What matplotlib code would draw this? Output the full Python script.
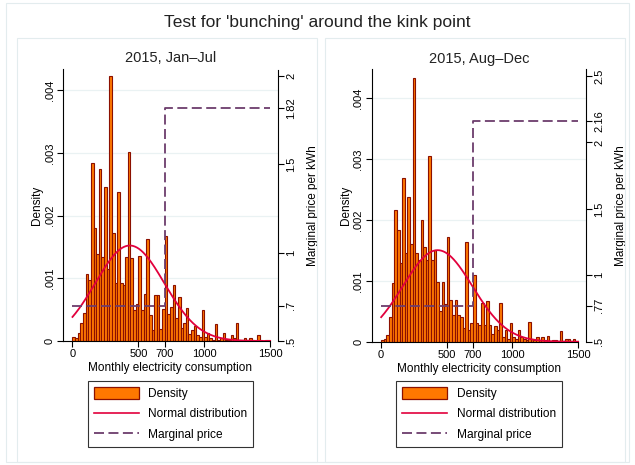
import numpy as np
import matplotlib
matplotlib.use("Agg")
import matplotlib.pyplot as plt
from matplotlib.patches import Patch, Rectangle
from matplotlib.lines import Line2D

plt.rcParams["font.family"] = ["Liberation Sans", "DejaVu Sans"]
plt.rcParams["lines.scale_dashes"] = False

# ---- data ----
bin_width = 20
bin_edges = np.arange(0, 1500, bin_width)  # left edges of 75 bins

density_janjul = [
    0.00007, 0.00004, 0.00012, 0.00028, 0.00045, 0.00107, 0.00097, 0.00284, 0.00181, 0.00138,
    0.00274, 0.00134, 0.00246, 0.00115, 0.00423, 0.00173, 0.00092, 0.00238, 0.00093, 0.00090,
    0.00134, 0.00302, 0.00132, 0.00049, 0.00059, 0.00135, 0.00050, 0.00075, 0.00163, 0.00041,
    0.00018, 0.00073, 0.00073, 0.00019, 0.00051, 0.00168, 0.00043, 0.00055, 0.00090, 0.00037,
    0.00070, 0.00020, 0.00028, 0.00053, 0.00011, 0.00018, 0.00024, 0.00009, 0.00007, 0.00050,
    0.00006, 0.00013, 0.00004, 0.00002, 0.00027, 0.00002, 0.00004, 0.00013, 0.00002, 0.00001,
    0.00009, 0.00005, 0.00029, 0.00001, 0.00001, 0.00005, 0.00002, 0.00005, 0.00002, 0.00000,
    0.00010, 0.00001, 0.00000, 0.00002, 0.00001,
]

density_augdec = [
    0.00002, 0.00004, 0.00011, 0.00040, 0.00097, 0.00216, 0.00184, 0.00130, 0.00270, 0.00146,
    0.00238, 0.00160, 0.00434, 0.00146, 0.00135, 0.00200, 0.00155, 0.00134, 0.00305, 0.00134,
    0.00150, 0.00099, 0.00050, 0.00099, 0.00062, 0.00173, 0.00069, 0.00044, 0.00069, 0.00044,
    0.00041, 0.00022, 0.00164, 0.00020, 0.00031, 0.00110, 0.00030, 0.00027, 0.00064, 0.00027,
    0.00067, 0.00027, 0.00013, 0.00026, 0.00020, 0.00064, 0.00007, 0.00020, 0.00005, 0.00030,
    0.00007, 0.00004, 0.00019, 0.00008, 0.00004, 0.00002, 0.00033, 0.00004, 0.00002, 0.00008,
    0.00002, 0.00007, 0.00002, 0.00009, 0.00001, 0.00002, 0.00002, 0.00001, 0.00018, 0.00001,
    0.00004, 0.00004, 0.00001, 0.00004, 0.00000,
]

# normal fit (mean, sd) per period
normal_janjul = (435, 262)
normal_augdec = (430, 265)

# marginal price schedule: price below / above the kink
kink_x = [0, 700, 1500]
price_janjul = [0.70, 1.82, 1.82]
price_augdec = [0.77, 2.16, 2.16]

price_ticks_janjul = [0.5, 0.7, 1, 1.5, 1.82, 2]
price_labels_janjul = [".5", ".7", "1", "1.5", "1.82", "2"]
price_ticks_augdec = [0.5, 0.77, 1, 1.5, 2, 2.16, 2.5]
price_labels_augdec = [".5", ".77", "1", "1.5", "2", "2.16", "2.5"]

density_ticks = [0, 0.001, 0.002, 0.003, 0.004]
density_labels = ["0", ".001", ".002", ".003", ".004"]
x_ticks = [0, 500, 700, 1000, 1500]

BAR_FACE = "#ff7800"
BAR_EDGE = "#8b1000"
NORM_COL = "#e2003c"
PRICE_COL = "#6c3d6c"
FRAME_COL = "#e3ecee"

W, H = 635, 465
fig = plt.figure(figsize=(W / 100, H / 100), dpi=100)


def px_rect(x0, y0, x1, y1):
    # pixel box (top-left origin) -> figure fraction rect
    return [x0 / W, 1 - y1 / H, (x1 - x0) / W, (y1 - y0) / H]


# light frames like the Stata graph regions
for (x0, y0, x1, y1) in [(6, 3, 629, 462), (17, 38, 317, 462), (325, 38, 625, 462)]:
    fig.patches.append(Rectangle((x0 / W, 1 - y1 / H), (x1 - x0) / W, (y1 - y0) / H,
                                 transform=fig.transFigure, fill=False,
                                 edgecolor=FRAME_COL, linewidth=0.8))


def panel(rect, dens, norm, price, dens_top, price_top, pticks, plabels, title, title_x):
    ax = fig.add_axes(rect)
    ax.bar(bin_edges, dens, width=bin_width, align="edge", color=BAR_FACE,
           edgecolor=BAR_EDGE, linewidth=0.8, zorder=2)
    mu, sd = norm
    xs = np.linspace(0, 1500, 400)
    ax.plot(xs, np.exp(-0.5 * ((xs - mu) / sd) ** 2) / (sd * np.sqrt(2 * np.pi)),
            color=NORM_COL, linewidth=1.3, zorder=3)
    ax.set_xlim(-72, 1560)
    ax.set_ylim(0, dens_top)
    ax.set_xticks(x_ticks)
    ax.set_xticklabels([str(t) for t in x_ticks])
    ax.set_yticks(density_ticks)
    ax.set_yticklabels(density_labels, rotation=90, va="center")
    ax.grid(axis="y", color="#eaf2f3", linewidth=0.9, zorder=0)
    ax.set_axisbelow(True)
    for s in ["top", "right"]:
        ax.spines[s].set_visible(False)
    ax.spines["bottom"].set_bounds(-72, 1500)
    ax.tick_params(direction="out", length=4, width=0.8, labelsize=8, pad=2)
    ax.set_xlabel("Monthly electricity consumption", fontsize=8.5, labelpad=2)
    ax.set_ylabel("Density", fontsize=8.5, va="center")
    ax.yaxis.set_label_coords(-0.122, 0.5)

    ax2 = ax.twinx()
    ax2.step(kink_x, price, where="post", color=PRICE_COL, linewidth=1.3,
             dashes=(7.2, 3.2), zorder=4)
    ax2.set_ylim(0.5, price_top)
    ax2.set_yticks(pticks)
    ax2.set_yticklabels(plabels, rotation=90, va="center")
    for s in ["top", "left", "bottom"]:
        ax2.spines[s].set_visible(False)
    ax2.tick_params(direction="out", length=4, width=0.8, labelsize=8, pad=2)
    ax2.set_ylabel("Marginal price per kWh", fontsize=8.5, rotation=90, va="center")
    ax2.yaxis.set_label_coords(1.165, 0.5)

    fig.text(title_x / W, 1 - 58.5 / H, title, fontsize=10.5, ha="center", va="center",
             color="#222222")
    return ax


panel(px_rect(63, 69.5, 278, 341), density_janjul, normal_janjul, price_janjul,
      0.00433, 2.037, price_ticks_janjul, price_labels_janjul, "2015, Jan\u2013Jul", 170.5)
panel(px_rect(371.7, 69.3, 586, 341.7), density_augdec, normal_augdec, price_augdec,
      0.00448, 2.551, price_ticks_augdec, price_labels_augdec, "2015, Aug\u2013Dec", 479)

fig.text(0.5, 1 - 22 / H, "Test for 'bunching' around the kink point", fontsize=12.5,
         ha="center", va="center", color="#222222")

handles = [
    Patch(facecolor=BAR_FACE, edgecolor=BAR_EDGE, linewidth=0.9),
    Line2D([], [], color=NORM_COL, linewidth=1.2),
    Line2D([], [], color=PRICE_COL, linewidth=1.3, dashes=(7.2, 3.2)),
]
labels = ["Density", "Normal distribution", "Marginal price"]
for cx in [170.5, 479]:
    leg = fig.legend(handles, labels, loc="upper center",
                     bbox_to_anchor=(cx / W, 1 - 381.4 / H), fontsize=8.6,
                     frameon=True, fancybox=False, shadow=False,
                     handlelength=3.75, handleheight=1.1, handletextpad=0.8,
                     labelspacing=0.63, borderpad=0.5, borderaxespad=0)
    leg.get_frame().set_edgecolor("black")
    leg.get_frame().set_linewidth(0.8)

fig.savefig("out.png", dpi=100)
